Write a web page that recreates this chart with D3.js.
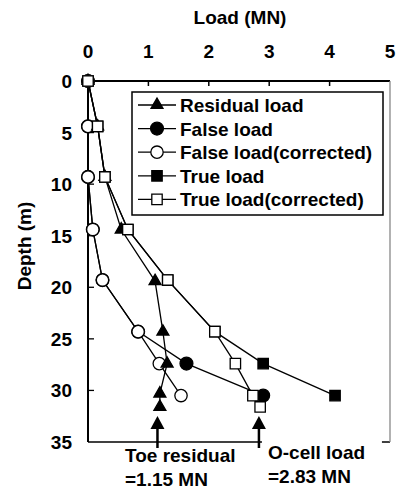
<!DOCTYPE html>
<html>
<head>
<meta charset="utf-8">
<script src="https://cdn.jsdelivr.net/npm/d3@7"></script>
<style>
  body { margin: 0; background: #fff; }
  svg text { font-family: "Liberation Sans", Arial, sans-serif; font-weight: bold; fill: #000; }
</style>
</head>
<body>
<svg width="396" height="490"></svg>
<script>
// Overall dimension of the canvas
const width = 396;
const height = 490;

// Data: depth (m) and load (MN) for every series
const residualDepth = [0, 4.4, 9.3, 14.4, 19.4, 24.3, 27.4, 30.3, 31.6];
const residualLoad  = [0, 0.16, 0.28, 0.55, 1.11, 1.24, 1.31, 1.19, 1.19];

const falseDepth = [0, 4.4, 9.3, 14.4, 19.3, 24.3, 27.4, 30.5];
const falseLoad  = [0, 0, 0, 0.08, 0.24, 0.83, 1.63, 2.90];

const falseCorrDepth = [0, 4.4, 9.3, 14.4, 19.3, 24.3, 27.4, 30.5];
const falseCorrLoad  = [0, 0, 0, 0.08, 0.24, 0.83, 1.18, 1.54];

const trueDepth = [0, 4.4, 9.3, 14.4, 19.3, 24.3, 27.4, 30.5];
const trueLoad  = [0, 0.16, 0.28, 0.66, 1.32, 2.10, 2.90, 4.09];

const trueCorrDepth = [0, 4.4, 9.3, 14.4, 19.3, 24.3, 27.4, 30.5, 31.6];
const trueCorrLoad  = [0, 0.16, 0.28, 0.66, 1.32, 2.10, 2.44, 2.73, 2.85];

const xTicks = [0, 1, 2, 3, 4, 5];
const yTicks = [0, 5, 10, 15, 20, 25, 30, 35];

// Arrow annotations (load in MN)
const toeResidual = 1.15;
const ocellLoad = 2.83;

// Plot area
const margin = {top: 81, right: 6, bottom: 48, left: 88};
const plotW = width - margin.left - margin.right;
const plotH = height - margin.top - margin.bottom;

const x = d3.scaleLinear().domain([0, 5]).range([margin.left, margin.left + plotW]);
const y = d3.scaleLinear().domain([0, 35]).range([margin.top, margin.top + plotH]);

const svg = d3.select("svg");

// series definitions; order here is the drawing order (hollow on top of filled where they share points)
const series = [
  {name: "False load", d: falseDepth, v: falseLoad, shape: d3.symbolCircle, size: 130, fill: "#000"},
  {name: "False load(corrected)", d: falseCorrDepth, v: falseCorrLoad, shape: d3.symbolCircle, size: 120, fill: "#fff"},
  {name: "Residual load", d: residualDepth, v: residualLoad, shape: d3.symbolTriangle, size: 62, fill: "#000"},
  {name: "True load", d: trueDepth, v: trueLoad, shape: d3.symbolSquare, size: 108, fill: "#000"},
  {name: "True load(corrected)", d: trueCorrDepth, v: trueCorrLoad, shape: d3.symbolSquare, size: 108, fill: "#fff"}
];
const legendOrder = ["Residual load", "False load", "False load(corrected)", "True load", "True load(corrected)"];

// Frame: top axis, left axis, bottom, faint right border
svg.append("line")
  .attr("x1", x(0)).attr("x2", x(5)).attr("y1", y(0)).attr("y2", y(0))
  .attr("stroke", "#000").attr("stroke-width", 2);
svg.append("line")
  .attr("x1", x(0)).attr("x2", x(0)).attr("y1", y(0)).attr("y2", y(35))
  .attr("stroke", "#000").attr("stroke-width", 2);
svg.append("line")
  .attr("x1", x(0)).attr("x2", x(5)).attr("y1", y(35)).attr("y2", y(35))
  .attr("stroke", "#000").attr("stroke-width", 1.5);
svg.append("line")
  .attr("x1", x(5)).attr("x2", x(5)).attr("y1", y(0)).attr("y2", y(35))
  .attr("stroke", "#888").attr("stroke-width", 1.3);

// Top axis ticks (inward) and labels
svg.selectAll(".xtick")
  .data(xTicks.slice(1, -1))
  .join("line")
  .attr("x1", d => x(d)).attr("x2", d => x(d))
  .attr("y1", y(0)).attr("y2", y(0) + 5)
  .attr("stroke", "#000").attr("stroke-width", 1.5);
svg.selectAll(".xlab")
  .data(xTicks)
  .join("text")
  .attr("x", d => x(d))
  .attr("y", 58)
  .attr("text-anchor", "middle")
  .style("font-size", "19px")
  .text(d => d);

// Left axis ticks (inward) and labels
svg.selectAll(".ytick")
  .data(yTicks.slice(1, -1))
  .join("line")
  .attr("x1", x(0)).attr("x2", x(0) + 6)
  .attr("y1", d => y(d)).attr("y2", d => y(d))
  .attr("stroke", "#000").attr("stroke-width", 1.3);
svg.selectAll(".ylab")
  .data(yTicks)
  .join("text")
  .attr("x", 72)
  .attr("y", d => y(d) + 7)
  .attr("text-anchor", "end")
  .style("font-size", "19px")
  .text(d => d);

// Axis titles
svg.append("text")
  .attr("x", 240).attr("y", 24)
  .attr("text-anchor", "middle")
  .style("font-size", "19px")
  .text("Load (MN)");
svg.append("text")
  .attr("transform", "translate(31, 246) rotate(-90)")
  .attr("text-anchor", "middle")
  .style("font-size", "19px")
  .text("Depth (m)");

// Series lines first, then markers
const line = d3.line().x(p => x(p[1])).y(p => y(p[0]));
series.forEach(s => {
  svg.append("path")
    .attr("d", line(d3.zip(s.d, s.v)))
    .attr("fill", "none")
    .attr("stroke", "#000")
    .attr("stroke-width", 1.3);
});
series.forEach(s => {
  svg.append("g")
    .selectAll("path")
    .data(d3.zip(s.d, s.v))
    .join("path")
    .attr("d", d3.symbol().type(s.shape).size(s.size))
    .attr("transform", p => `translate(${x(p[1])}, ${y(p[0])})`)
    .attr("fill", s.fill)
    .attr("stroke", "#000")
    .attr("stroke-width", 1.3);
});

// Legend
const legend = svg.append("g");
legend.append("rect")
  .attr("x", 132).attr("y", 92)
  .attr("width", 251).attr("height", 123)
  .attr("fill", "#fff")
  .attr("stroke", "#000")
  .attr("stroke-width", 1.5);
const legendItems = legend.selectAll(".legend-item")
  .data(legendOrder.map(n => series.find(s => s.name === n)))
  .join("g")
  .attr("transform", (d, i) => `translate(0, ${105 + i * 23.6})`);
legendItems.append("line")
  .attr("x1", 138).attr("x2", 176)
  .attr("stroke", "#000").attr("stroke-width", 1.3);
legendItems.append("path")
  .attr("d", d => d3.symbol().type(d.shape).size(d.size)())
  .attr("transform", "translate(157, 0)")
  .attr("fill", d => d.fill)
  .attr("stroke", "#000")
  .attr("stroke-width", 1.3);
legendItems.append("text")
  .attr("x", 180).attr("y", 7)
  .style("font-size", "19px")
  .text(d => d.name);

// Arrows for toe residual and O-cell load
[toeResidual, ocellLoad].forEach(v => {
  const ax = x(v);
  svg.append("line")
    .attr("x1", ax).attr("x2", ax).attr("y1", 448).attr("y2", 426)
    .attr("stroke", "#000").attr("stroke-width", 2.5);
  svg.append("path")
    .attr("d", `M${ax},416 L${ax - 7},429 L${ax + 7},429 Z`)
    .attr("fill", "#000");
});

// Annotation text (white box hides the frame under "O-cell load")
svg.append("rect")
  .attr("x", x(ocellLoad) + 3).attr("y", 436)
  .attr("width", 120).attr("height", 12)
  .attr("fill", "#fff");
svg.append("text").attr("x", 125).attr("y", 462).style("font-size", "19px").text("Toe residual");
svg.append("text").attr("x", 125).attr("y", 486).style("font-size", "19px").text("=" + toeResidual + " MN");
svg.append("text").attr("x", 268).attr("y", 459).style("font-size", "19px").text("O-cell load");
svg.append("text").attr("x", 268).attr("y", 483).style("font-size", "19px").text("=" + ocellLoad + " MN");
</script>
</body>
</html>
